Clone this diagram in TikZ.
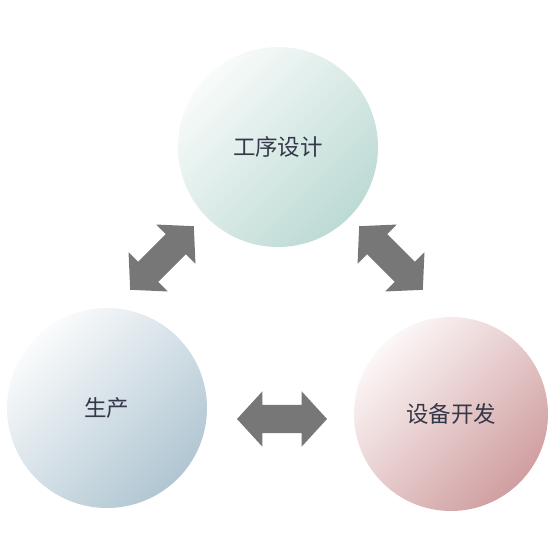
\documentclass[tikz,border=0pt]{standalone}
\usepackage{fontspec}
\newfontfamily\cjk{Noto Sans CJK SC}
\usetikzlibrary{shapes.arrows}
\definecolor{arrowgray}{RGB}{119,119,119}
\definecolor{txt}{RGB}{52,56,72}
\definecolor{mintL}{RGB}{248,251,250}
\definecolor{mintD}{RGB}{188,218,212}
\definecolor{blueL}{RGB}{250,251,252}
\definecolor{blueD}{RGB}{176,198,210}
\definecolor{pinkL}{RGB}{252,247,247}
\definecolor{pinkD}{RGB}{208,158,160}
\tikzset{
  ball/.style={circle, inner sep=0pt, minimum size=#1, text=txt,
    font=\cjk\fontsize{22.5}{26}\selectfont},
  dblarrow/.style={double arrow, fill=arrowgray, draw=none, inner xsep=0pt, inner ysep=14pt,
    minimum height=90pt, double arrow head extend=13.5pt, double arrow tip angle=95}
}
\begin{document}
\begin{tikzpicture}[x=1pt,y=-1pt]
\useasboundingbox (0,0) rectangle (550,550);
\node[ball=200pt, top color=mintL, bottom color=mintD, shading angle=45] (gx) at (278,147) {工序设计};
\node[ball=200pt, top color=blueL, bottom color=blueD, shading angle=45] (sc) at (107,408) {生产};
\node[ball=194pt, top color=pinkL, bottom color=pinkD, shading angle=45] (sb) at (451,414) {设备开发};
\node[dblarrow, rotate=45] (a1) at (162,258) {};
\node[dblarrow, rotate=-45] (a2) at (391,258) {};
\node[dblarrow] (a3) at (282,419) {};
\end{tikzpicture}
\end{document}
